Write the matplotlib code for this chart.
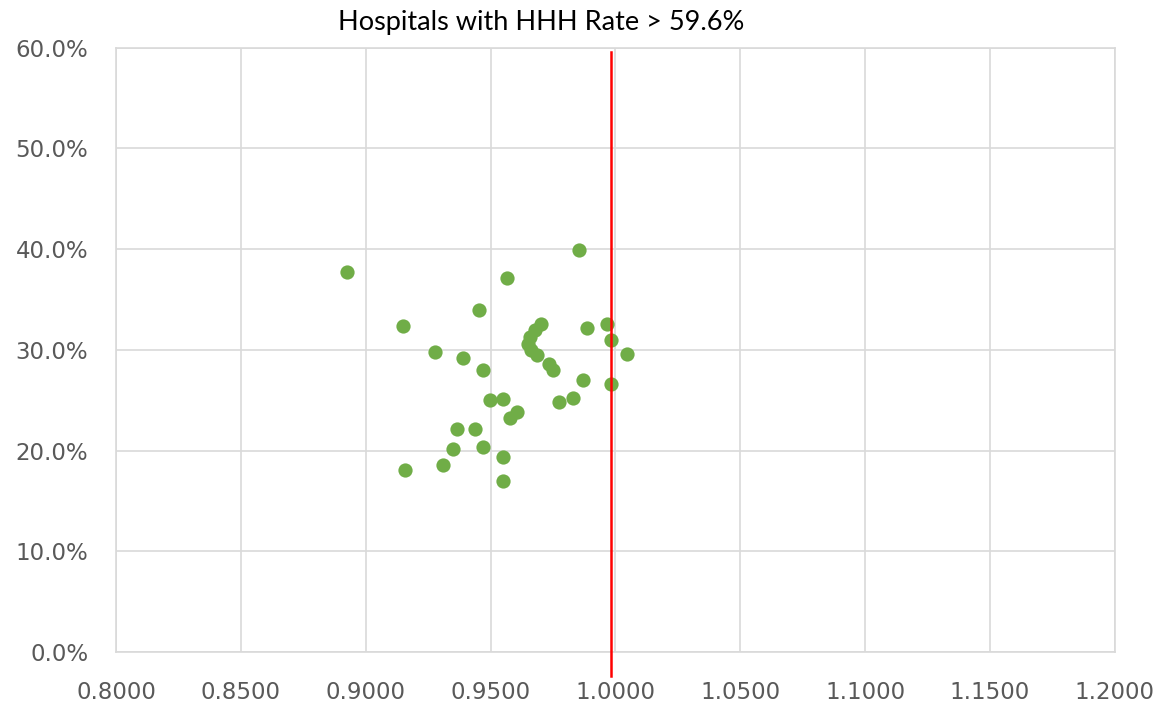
import matplotlib
matplotlib.use("Agg")
import matplotlib.pyplot as plt
import matplotlib.ticker as ticker

# ratio (x) vs HHH rate (y, fraction)
ratio = [0.8926, 0.9855, 0.9567, 0.9454, 0.9149,
         0.9702, 0.9678, 0.9658, 0.9650, 0.9662, 0.9686,
         0.9886, 0.9965, 0.9982, 1.0045, 0.9276, 0.9390, 0.9470,
         0.9733, 0.9749, 0.9870, 0.9982, 0.9498, 0.9551, 0.9831,
         0.9773, 0.9605, 0.9578, 0.9364, 0.9438, 0.9348, 0.9470,
         0.9550, 0.9159, 0.9310, 0.9550]
rate = [0.377, 0.399, 0.371, 0.340, 0.324,
        0.326, 0.320, 0.313, 0.306, 0.300, 0.295,
        0.322, 0.326, 0.310, 0.296, 0.298, 0.292, 0.280,
        0.286, 0.280, 0.270, 0.266, 0.250, 0.251, 0.252,
        0.248, 0.238, 0.232, 0.221, 0.221, 0.202, 0.204,
        0.194, 0.181, 0.186, 0.170]

ref_x = 0.9983
ref_y = [-0.024, 0.596]

title = "Hospitals with HHH Rate > 59.6%"
GRID = "#d9d9d9"
TICK = "#595959"

fig = plt.figure(figsize=(11.58, 7.06), dpi=100)
ax = fig.add_axes([0.1002, 0.0765, 0.8625, 0.856])

ax.scatter(ratio, rate, s=105, color="#70ad47", zorder=3, linewidths=0)
ax.plot([ref_x, ref_x], ref_y, color="#ff0000", linewidth=1.8, zorder=4,
        clip_on=False)

ax.set_xlim(0.8, 1.2)
ax.set_ylim(0, 0.6)
ax.xaxis.set_major_locator(ticker.MultipleLocator(0.05))
ax.yaxis.set_major_locator(ticker.MultipleLocator(0.1))
ax.xaxis.set_major_formatter(ticker.FormatStrFormatter("%.4f"))
ax.yaxis.set_major_formatter(ticker.PercentFormatter(1.0, decimals=1))

ax.grid(True, color=GRID, linewidth=1.2, zorder=0)
ax.set_axisbelow(True)
for s in ax.spines.values():
    s.set_color(GRID)
    s.set_linewidth(1.2)

ax.tick_params(length=0, labelsize=16.5, colors=TICK, labelcolor=TICK)
ax.tick_params(axis="x", pad=21)
ax.tick_params(axis="y", pad=20)

fig.text(0.467, 0.968, title, ha="center", va="center", fontsize=19.5,
         family="Lato", color="#000000")

plt.savefig("out.png", dpi=100)
plt.close(fig)
